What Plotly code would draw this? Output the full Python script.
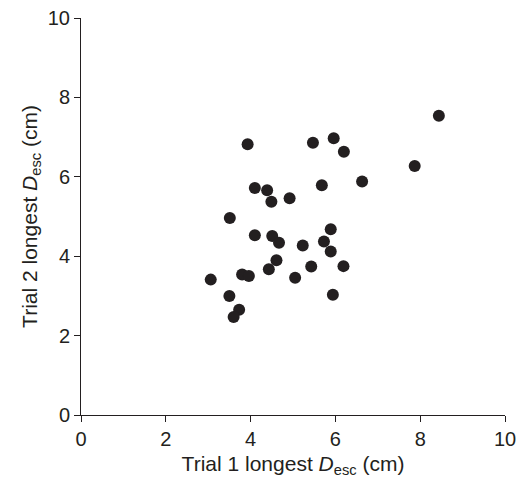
import plotly.graph_objects as go

trial1 = [3.93, 5.47, 5.96, 6.20, 4.10, 4.39, 4.49, 4.92, 5.68, 6.63,
          3.51, 4.10, 4.51, 4.67, 5.23, 5.89, 5.73, 5.89, 4.61, 4.43,
          5.43, 6.19, 3.80, 3.96, 5.05, 3.06, 3.50, 5.94, 3.73, 3.60,
          8.44, 7.87]
trial2 = [6.82, 6.86, 6.97, 6.63, 5.72, 5.66, 5.37, 5.46, 5.79, 5.88,
          4.96, 4.53, 4.51, 4.34, 4.27, 4.68, 4.37, 4.12, 3.90, 3.67,
          3.74, 3.75, 3.54, 3.50, 3.46, 3.41, 3.00, 3.03, 2.65, 2.47,
          7.54, 6.27]
ticks = [0, 2, 4, 6, 8, 10]

FONT = "Liberation Sans, Arial, sans-serif"
INK = "#231f20"

fig = go.Figure(go.Scatter(
    x=trial1, y=trial2, mode="markers",
    marker=dict(size=12, color=INK, line=dict(width=0)),
    cliponaxis=False,
))

axis_common = dict(
    range=[0, 10], tickvals=ticks, ticks="outside", ticklen=6, tickwidth=1,
    tickcolor=INK, showline=True, linecolor=INK, linewidth=1,
    showgrid=False, zeroline=False, automargin=False,
    ticklabeloverflow="allow",
    tickfont=dict(family=FONT, size=20, color=INK),
)

# page has an 8px body margin, so the figure is sized to fit the window
fig.update_layout(
    width=517, height=470,
    margin=dict(l=73, r=20, t=10, b=63),
    plot_bgcolor="white", paper_bgcolor="white",
    showlegend=False,
    font=dict(family=FONT, size=21, color=INK),
    xaxis=dict(**axis_common,
               title=dict(text="Trial 1 longest <i>D</i><sub>esc</sub> (cm)",
                          standoff=8, font=dict(size=21))),
    yaxis=dict(**axis_common,
               title=dict(text="Trial 2 longest <i>D</i><sub>esc</sub> (cm)",
                          standoff=4, font=dict(size=21))),
)

fig.write_html("out.html")
